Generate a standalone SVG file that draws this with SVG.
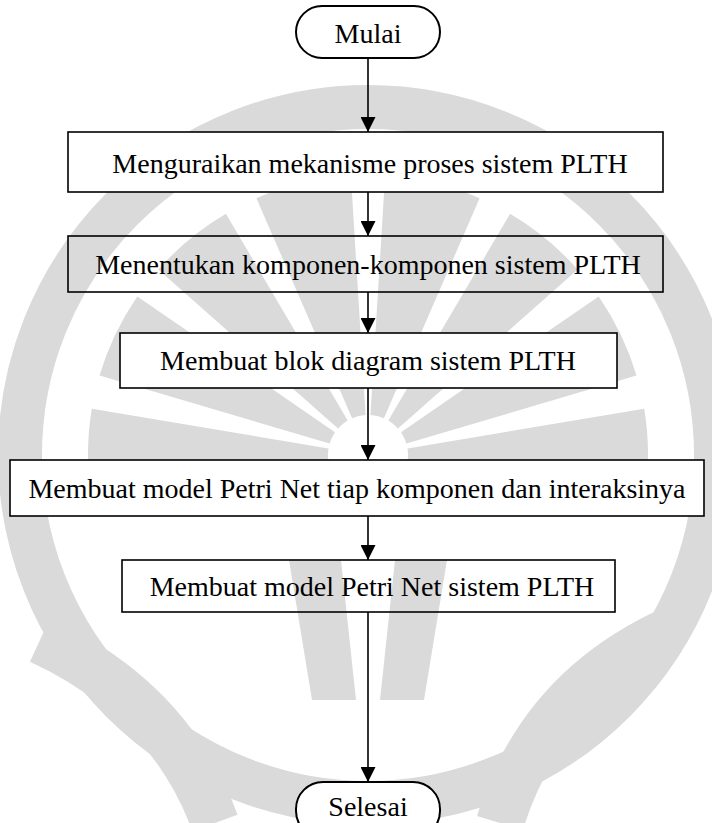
<svg xmlns="http://www.w3.org/2000/svg" width="712" height="823" viewBox="0 0 712 823">
  <style>
    .box { stroke: #000000; stroke-width: 1.6; }
    .solid { fill: #ffffff; }
    .clear { fill: none; }
    .term { stroke: #000000; stroke-width: 2; }
    .lbl { font-family: "Liberation Serif", "Times New Roman", serif; font-size: 28px; fill: #000000; text-anchor: middle; dominant-baseline: central; }
    .edge { stroke: #000000; stroke-width: 1.6; fill: none; marker-end: url(#arrow); }
    .wm { fill: #dadada; }
    .wm-line { fill: none; stroke: #dadada; }
  </style>
  <defs>
    <marker id="arrow" viewBox="0 0 10 10" refX="10" refY="5" markerUnits="userSpaceOnUse" markerWidth="15" markerHeight="15" orient="auto">
      <path d="M0,0 L10,5 L0,10 Z" fill="#000000"/>
    </marker>
    <!-- one half of the emblem's ray fan, mirrored for the other half -->
    <g id="fan-half">
      <path d="M370.4,415.1 L385.1,175.5 A280,280 0 0 1 479.6,198.2 L383.9,418.3 A40,40 0 0 0 370.4,415.1 Z"/>
      <path d="M388.3,420.5 L510.1,213.8 A280,280 0 0 1 577.7,269.5 L398.0,428.5 A40,40 0 0 0 388.3,420.5 Z"/>
      <path d="M401.0,432.3 L598.7,296.4 A280,280 0 0 1 636.5,375.5 L406.4,443.6 A40,40 0 0 0 401.0,432.3 Z"/>
      <path d="M407.5,448.4 L644.2,408.8 A280,280 0 0 1 643.7,503.6 L407.4,461.9 A40,40 0 0 0 407.5,448.4 Z"/>
    </g>
  </defs>
  <rect width="712" height="823" fill="#ffffff"/>

  <!-- background emblem -->
  <g id="emblem">
    <circle class="wm-line" cx="368" cy="455" r="348" stroke-width="44"/>
    <g class="wm">
      <use href="#fan-half"/>
      <use href="#fan-half" transform="matrix(-1 0 0 1 736 0)"/>
      <path d="M289,560 L341,560 L356,700 L312,700 Z"/>
      <path d="M395,560 L447,560 L424,700 L380,700 Z"/>
    </g>
    <path class="wm-line" d="M40,640 Q170,700 215,823" stroke-width="48"/>
    <path class="wm-line" d="M672,630 Q540,690 500,823" stroke-width="48"/>
  </g>

  <g id="edges">
    <line class="edge" x1="368" y1="58" x2="368" y2="132"/>
    <line class="edge" x1="368" y1="192" x2="368" y2="236"/>
    <line class="edge" x1="368" y1="292" x2="368" y2="333"/>
    <line class="edge" x1="368" y1="388" x2="368" y2="460"/>
    <line class="edge" x1="368" y1="516" x2="368" y2="560"/>
    <line class="edge" x1="368" y1="612" x2="368" y2="782"/>
  </g>

  <g id="start">
    <rect class="term solid" x="296" y="6" width="144" height="52" rx="26"/>
    <text class="lbl" x="368" y="33">Mulai</text>
  </g>
  <g id="step1">
    <rect class="box solid" x="68" y="132" width="595" height="60"/>
    <text class="lbl" x="370" y="163">Menguraikan mekanisme proses sistem PLTH</text>
  </g>
  <g id="step2">
    <rect class="box clear" x="68" y="236" width="595" height="56"/>
    <text class="lbl" x="368" y="264">Menentukan komponen-komponen sistem PLTH</text>
  </g>
  <g id="step3">
    <rect class="box solid" x="120" y="333" width="497" height="55"/>
    <text class="lbl" x="368" y="360">Membuat blok diagram sistem PLTH</text>
  </g>
  <g id="step4">
    <rect class="box solid" x="10" y="460" width="694" height="56"/>
    <text class="lbl" x="357" y="488">Membuat model Petri Net tiap komponen dan interaksinya</text>
  </g>
  <g id="step5">
    <rect class="box clear" x="122" y="560" width="493" height="52"/>
    <text class="lbl" x="372" y="586">Membuat model Petri Net sistem PLTH</text>
  </g>
  <g id="end">
    <rect class="term solid" x="296" y="782" width="144" height="56" rx="27"/>
    <text class="lbl" x="368" y="806">Selesai</text>
  </g>
</svg>
